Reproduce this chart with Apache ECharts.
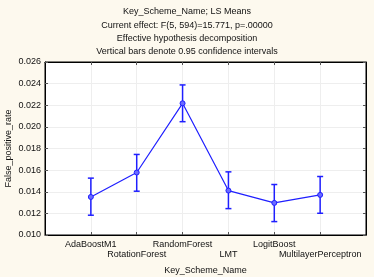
<!DOCTYPE html>
<html><head><meta charset="utf-8">
<script src="https://cdn.jsdelivr.net/npm/echarts@6/dist/echarts.min.js"></script>
<style>html,body{margin:0;padding:0;background:#fdf9ee;}#c{width:374px;height:277px;}</style>
</head><body><div id="c"></div>
<script>
const categories = ['AdaBoostM1','RotationForest','RandomForest','LMT','LogitBoost','MultilayerPerceptron'];
const means = [0.01352, 0.01578, 0.02218, 0.01411, 0.01297, 0.01371];
const upper = [0.01526, 0.01745, 0.02388, 0.01584, 0.01467, 0.01541];
const lower = [0.01183, 0.01405, 0.02048, 0.01244, 0.01124, 0.01201];
const titleLines = ['Key_Scheme_Name; LS Means','Current effect: F(5, 594)=15.771, p=.00000','Effective hypothesis decomposition','Vertical bars denote 0.95 confidence intervals'];

const FONT = 'Liberation Sans';
const BLUE = '#1f1fff';
const axisCats = [''].concat(categories, ['']);
const linePts = means.map((v,i)=>[i+1, v]);
const errPts = means.map((v,i)=>[i+1, lower[i], upper[i]]);
const inner = (idx) => idx > 0 && idx < axisCats.length - 1;

const chart = echarts.init(document.getElementById('c'));
chart.setOption({
  backgroundColor: '#fdf9ee',
  animation: false,
  title: {
    text: titleLines.join('\n'), left: 'center', top: 0,
    textStyle: {fontFamily: FONT, fontSize: 9, fontWeight: 'normal', color: '#111', lineHeight: 13.4}
  },
  grid: {left: 45, right: 8, top: 62, bottom: 42, containLabel: false, outerBoundsMode: 'none',
    show: true, backgroundColor: '#fff', borderColor: '#000', borderWidth: 1},
  xAxis: [{
    type: 'category', data: axisCats, boundaryGap: false,
    name: 'Key_Scheme_Name', nameLocation: 'middle', nameGap: 31, nameMoveOverlap: false,
    nameTextStyle: {fontFamily: FONT, fontSize: 9, color: '#111'},
    axisLine: {show: true, lineStyle: {color: '#000'}},
    axisTick: {show: true, inside: true, length: 3, interval: inner, lineStyle: {color: '#555'}},
    axisLabel: {fontFamily: FONT, fontSize: 9, color: '#111', margin: 4, lineHeight: 10.5,
      interval: 0, hideOverlap: false, showMinLabel: true, showMaxLabel: true,
      formatter: (v, idx) => { const i = idx - 1; if (i < 0 || i >= categories.length) return ''; return (i % 2 === 1 ? '\n' : '') + v; }},
    splitLine: {show: true, interval: inner, lineStyle: {color: '#eeeeee', width: 1}}
  },{
    type: 'category', data: axisCats, boundaryGap: false, position: 'top',
    axisLine: {show: true, lineStyle: {color: '#000'}},
    axisTick: {show: true, inside: true, length: 3, interval: inner, lineStyle: {color: '#555'}},
    axisLabel: {show: false}, splitLine: {show: false}
  }],
  yAxis: [{
    type: 'value', min: 0.010, max: 0.026, interval: 0.002,
    name: 'False_positive_rate', nameLocation: 'middle', nameGap: 32, nameRotate: 90, nameMoveOverlap: false,
    nameTextStyle: {fontFamily: FONT, fontSize: 9, color: '#111'},
    axisLine: {show: true, lineStyle: {color: '#000'}},
    axisTick: {show: true, inside: true, length: 3, lineStyle: {color: '#555'}},
    axisLabel: {fontFamily: FONT, fontSize: 9, color: '#111', margin: 4, formatter: v => v.toFixed(3)},
    splitLine: {show: true, lineStyle: {color: '#eeeeee', width: 1}}
  },{
    type: 'value', min: 0.010, max: 0.026, interval: 0.002, position: 'right',
    axisLine: {show: true, lineStyle: {color: '#000'}},
    axisTick: {show: true, inside: true, length: 3, lineStyle: {color: '#555'}},
    axisLabel: {show: false}, splitLine: {show: false}
  }],
  series: [{
    type: 'custom', xAxisIndex: 0, yAxisIndex: 0, data: errPts, z: 3,
    renderItem: (params, api) => {
      const x = api.value(0);
      const lo = api.coord([x, api.value(1)]);
      const hi = api.coord([x, api.value(2)]);
      const w = 3;
      const st = {stroke: BLUE, lineWidth: 1.5};
      return {type: 'group', children: [
        {type: 'line', shape: {x1: lo[0], y1: lo[1], x2: hi[0], y2: hi[1]}, style: st},
        {type: 'line', shape: {x1: lo[0]-w, y1: lo[1], x2: lo[0]+w, y2: lo[1]}, style: st},
        {type: 'line', shape: {x1: hi[0]-w, y1: hi[1], x2: hi[0]+w, y2: hi[1]}, style: st}
      ]};
    }
  },{
    type: 'line', xAxisIndex: 0, yAxisIndex: 0, data: linePts, z: 4,
    symbol: 'circle', symbolSize: 5,
    lineStyle: {color: BLUE, width: 1.2},
    itemStyle: {color: '#6b6bff', borderColor: BLUE, borderWidth: 1}
  }]
});
</script></body></html>
